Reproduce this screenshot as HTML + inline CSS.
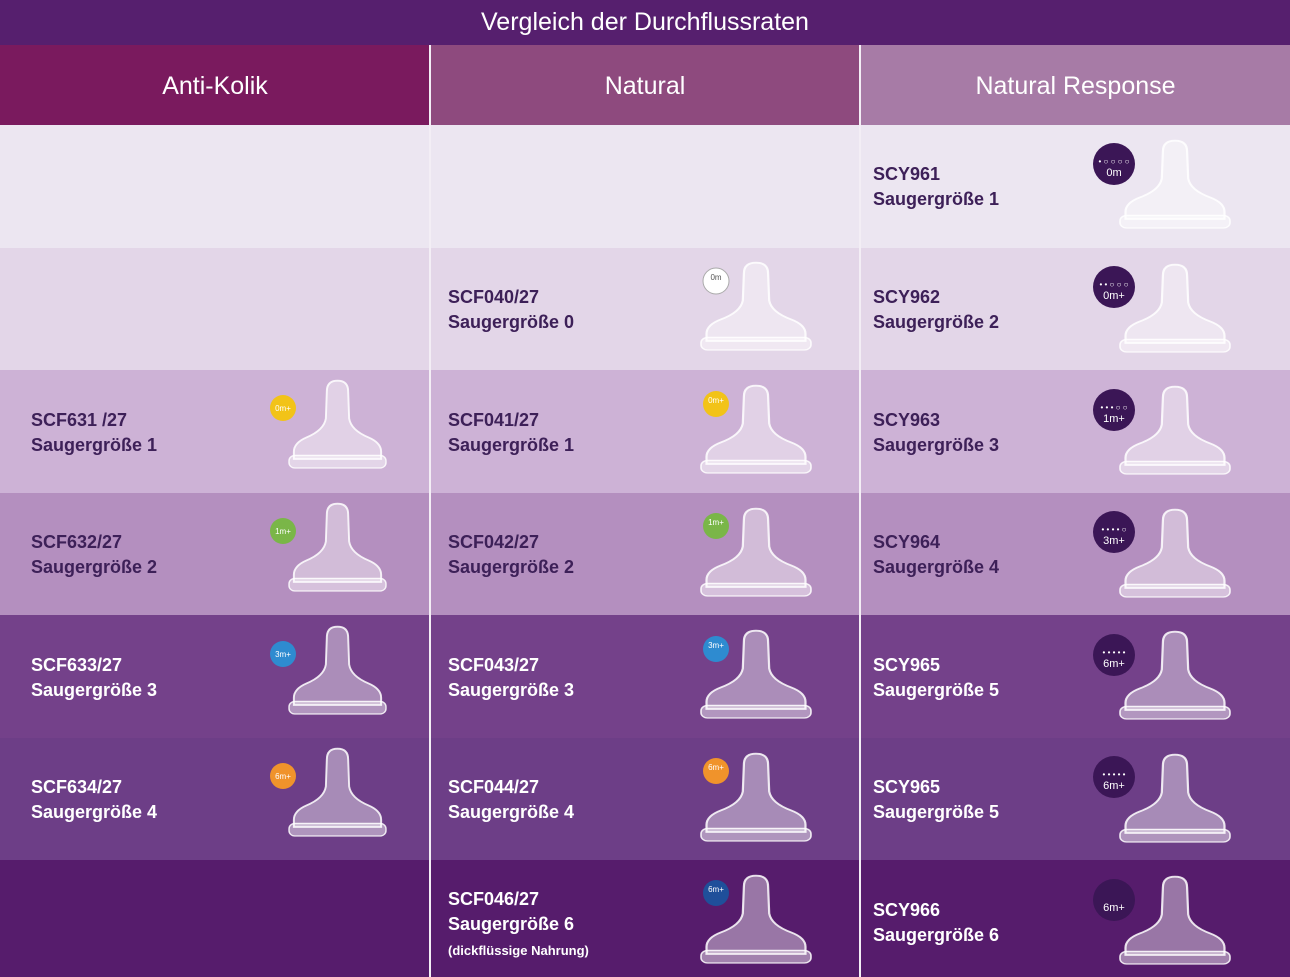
<!DOCTYPE html>
<html><head><meta charset="utf-8"><style>
*{margin:0;padding:0;box-sizing:border-box}
body{width:1290px;height:977px;overflow:hidden;font-family:"Liberation Sans",sans-serif;background:#fff;position:relative}
.t{position:absolute;left:0;top:0;width:1290px;height:45px;background:#561f6e;color:#fff;font-size:25px;text-align:center;line-height:45px}
.h{position:absolute;top:45px;height:80px;color:#fff;font-size:25px;text-align:center;line-height:82px}
.r{position:absolute;left:0;width:1290px}
.c{position:absolute;font-size:18px;line-height:25px;font-weight:bold}
.v{position:absolute;top:45px;width:2px;height:932px;background:#f3eef5}
.s{font-size:13px;line-height:20px}
svg.n{position:absolute}
</style></head><body>
<svg width="0" height="0" style="position:absolute"><defs>
<g id="nip"><path d="M39 15 Q39 3 50 3 Q61 3 61 15 L62 45 Q64 58 82 66 Q95 72 95 82 L95 90 L5 90 L5 82 Q5 72 18 66 Q36 58 38 45 Z" fill="rgba(255,255,255,0.4)" stroke="rgba(255,255,255,0.85)" stroke-width="2"/><rect x="0" y="86" width="100" height="14" rx="6" fill="rgba(255,255,255,0.45)" stroke="rgba(255,255,255,0.85)" stroke-width="1.5"/></g>
</defs></svg>
<div class="t">Vergleich der Durchflussraten</div>
<div class="h" style="left:0;width:430px;background:#7a1a5e">Anti-Kolik</div>
<div class="h" style="left:431px;width:428px;background:#8e4a7e">Natural</div>
<div class="h" style="left:861px;width:429px;background:#a77ba6">Natural Response</div>
<div class="r" style="top:125px;height:123px;background:#ece6f1"></div>
<div class="r" style="top:248px;height:122px;background:#e3d6e8"></div>
<div class="r" style="top:370px;height:123px;background:#cdb2d6"></div>
<div class="r" style="top:493px;height:122px;background:#b48fbf"></div>
<div class="r" style="top:615px;height:123px;background:#74418a"></div>
<div class="r" style="top:738px;height:122px;background:#6d3e87"></div>
<div class="r" style="top:860px;height:117px;background:#561c6c"></div>
<div class="v" style="left:429px"></div><div class="v" style="left:859px"></div>

<div class="c" style="left:873px;top:162px;color:#3d2058">SCY961<br>Saugergröße 1</div>
<div class="c" style="left:873px;top:285px;color:#3d2058">SCY962<br>Saugergröße 2</div>
<div class="c" style="left:873px;top:408px;color:#3d2058">SCY963<br>Saugergröße 3</div>
<div class="c" style="left:873px;top:530px;color:#3d2058">SCY964<br>Saugergröße 4</div>
<div class="c" style="left:873px;top:653px;color:#fff">SCY965<br>Saugergröße 5</div>
<div class="c" style="left:873px;top:775px;color:#fff">SCY965<br>Saugergröße 5</div>
<div class="c" style="left:873px;top:898px;color:#fff">SCY966<br>Saugergröße 6</div>

<div class="c" style="left:448px;top:285px;color:#3d2058">SCF040/27<br>Saugergröße 0</div>
<div class="c" style="left:448px;top:408px;color:#3d2058">SCF041/27<br>Saugergröße 1</div>
<div class="c" style="left:448px;top:530px;color:#3d2058">SCF042/27<br>Saugergröße 2</div>
<div class="c" style="left:448px;top:653px;color:#fff">SCF043/27<br>Saugergröße 3</div>
<div class="c" style="left:448px;top:775px;color:#fff">SCF044/27<br>Saugergröße 4</div>
<div class="c" style="left:448px;top:887px;color:#fff">SCF046/27<br>Saugergröße 6<br><span class="s">(dickflüssige Nahrung)</span></div>

<div class="c" style="left:31px;top:408px;color:#3d2058">SCF631 /27<br>Saugergröße 1</div>
<div class="c" style="left:31px;top:530px;color:#3d2058">SCF632/27<br>Saugergröße 2</div>
<div class="c" style="left:31px;top:653px;color:#fff">SCF633/27<br>Saugergröße 3</div>
<div class="c" style="left:31px;top:775px;color:#fff">SCF634/27<br>Saugergröße 4</div>

<svg class="n" style="left:0;top:0" width="1290" height="977">
<g>
<use href="#nip" transform="translate(1120 138) scale(1.1 0.9)"/><use href="#nip" transform="translate(1120 262) scale(1.1 0.9)"/>
<use href="#nip" transform="translate(1120 384) scale(1.1 0.9)"/><use href="#nip" transform="translate(1120 507) scale(1.1 0.9)"/>
<use href="#nip" transform="translate(1120 629) scale(1.1 0.9)"/><use href="#nip" transform="translate(1120 752) scale(1.1 0.9)"/>
<use href="#nip" transform="translate(1120 874) scale(1.1 0.9)"/>
<use href="#nip" transform="translate(701 260) scale(1.1 0.9)"/><use href="#nip" transform="translate(701 383) scale(1.1 0.9)"/>
<use href="#nip" transform="translate(701 506) scale(1.1 0.9)"/><use href="#nip" transform="translate(701 628) scale(1.1 0.9)"/>
<use href="#nip" transform="translate(701 751) scale(1.1 0.9)"/><use href="#nip" transform="translate(701 873) scale(1.1 0.9)"/>
<use href="#nip" transform="translate(289 378) scale(0.97 0.9)"/><use href="#nip" transform="translate(289 501) scale(0.97 0.9)"/>
<use href="#nip" transform="translate(289 624) scale(0.97 0.9)"/><use href="#nip" transform="translate(289 746) scale(0.97 0.9)"/>
</g>
<g fill="#3b1656" font-family="Liberation Sans" font-size="11" text-anchor="middle">
<circle cx="1114" cy="164" r="21"/><circle cx="1114" cy="287" r="21"/><circle cx="1114" cy="410" r="21"/>
<circle cx="1114" cy="532" r="21"/><circle cx="1114" cy="655" r="21"/><circle cx="1114" cy="777" r="21"/><circle cx="1114" cy="900" r="21"/>
<g fill="#fff"><text x="1114" y="176">0m</text><text x="1114" y="299">0m+</text><text x="1114" y="422">1m+</text>
<text x="1114" y="544">3m+</text><text x="1114" y="667">6m+</text><text x="1114" y="789">6m+</text><text x="1114" y="911">6m+</text>
<text x="1114" y="164" font-size="8">• ○ ○ ○ ○</text><text x="1114" y="287" font-size="8">• • ○ ○ ○</text>
<text x="1114" y="410" font-size="8">• • • ○ ○</text><text x="1114" y="532" font-size="8">• • • • ○</text>
<text x="1114" y="655" font-size="8">• • • • •</text><text x="1114" y="777" font-size="8">• • • • •</text></g>
</g>
<g font-family="Liberation Sans" font-size="8" text-anchor="middle" fill="#fff">
<circle cx="716" cy="281" r="13" fill="#fff" stroke="#aaa"/><text x="716" y="280" fill="#555">0m</text>
<circle cx="716" cy="404" r="13" fill="#f2c318"/><text x="716" y="403">0m+</text>
<circle cx="716" cy="526" r="13" fill="#7ab648"/><text x="716" y="525">1m+</text>
<circle cx="716" cy="649" r="13" fill="#2e8bd0"/><text x="716" y="648">3m+</text>
<circle cx="716" cy="771" r="13" fill="#f0932b"/><text x="716" y="770">6m+</text>
<circle cx="716" cy="893" r="13" fill="#1f4f9a"/><text x="716" y="892">6m+</text>
<circle cx="283" cy="408" r="13" fill="#f2c318"/><text x="283" y="411">0m+</text>
<circle cx="283" cy="531" r="13" fill="#7ab648"/><text x="283" y="534">1m+</text>
<circle cx="283" cy="654" r="13" fill="#2e8bd0"/><text x="283" y="657">3m+</text>
<circle cx="283" cy="776" r="13" fill="#f0932b"/><text x="283" y="779">6m+</text>
</g>
</svg>
</body></html>
